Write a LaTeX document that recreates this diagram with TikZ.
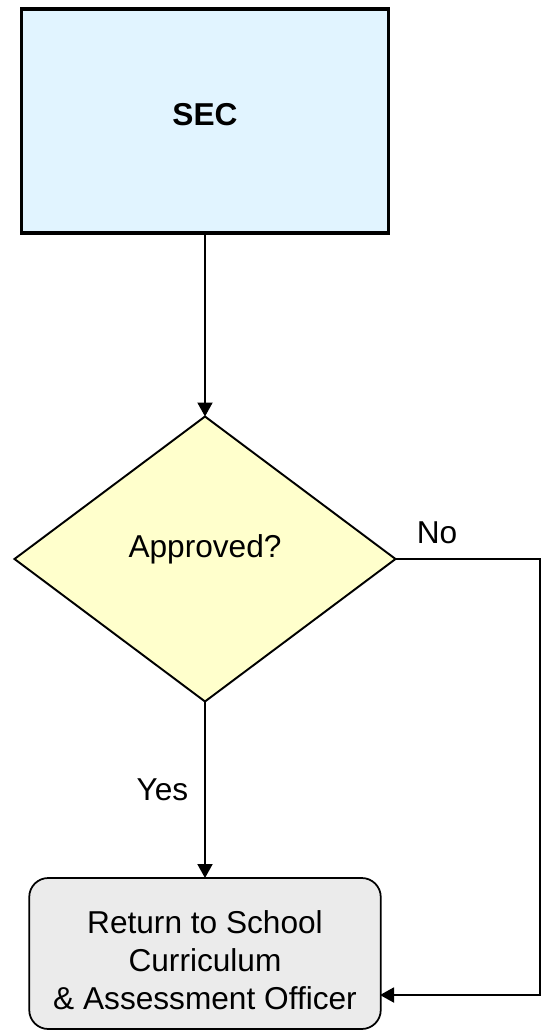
\documentclass[tikz,border=0pt]{standalone}
\usepackage{fontspec}
\setmainfont{Liberation Sans}
\usetikzlibrary{arrows.meta,shapes.geometric}
\definecolor{secblue}{RGB}{225,244,255}
\definecolor{decyellow}{RGB}{255,255,204}
\definecolor{retgrey}{RGB}{235,235,235}
\begin{document}
\begin{tikzpicture}[
            every node/.style={font=\fontsize{18}{21.6}\selectfont},
            arr/.style={line width=1.1pt,-{Triangle[width=0.3cm,length=0.28cm]}},
            secbox/.style={draw,line width=1.8pt,fill=secblue,minimum width=7.35cm,minimum height=4.48cm,inner sep=0pt,outer sep=0pt},
            decbox/.style={draw,line width=1.1pt,fill=decyellow,diamond,aspect=1.337,minimum width=7.62cm,minimum height=5.7cm,inner sep=0pt,outer sep=0pt},
            retbox/.style={draw,line width=1pt,fill=retgrey,rounded corners=0.38cm,minimum width=7.03cm,minimum height=3.02cm,inner sep=0pt,outer sep=0pt}
        ]
            \useasboundingbox (0,0) rectangle (10.84,-20.6);

            \node[secbox,text height=0.4cm,text depth=0.24cm] (sec) at (4.1,-2.42) {\bfseries SEC};
            \node[decbox,text height=0.4cm,text depth=0.48cm] (dec) at (4.1,-11.18) {Approved?};
            \node[retbox] (ret) at (4.1,-19.07) {};
            \node[align=center] (rettext) at ([yshift=-0.13cm]ret.center) {Return to School\\Curriculum\\\& Assessment Officer};

            \coordinate (noright) at (10.8,-11.18);
            \coordinate (noin) at (7.6,-19.9);

            \draw[arr] (sec.south) -- (dec.north);
            \draw[arr] (dec.south) -- node[midway,left=0.2cm] (yes) {Yes} (ret.north);
            \draw[arr] (dec.east) -- node[pos=0.287,above=0.17cm] (no) {No} (noright) |- (noin);
        \end{tikzpicture}
\end{document}
